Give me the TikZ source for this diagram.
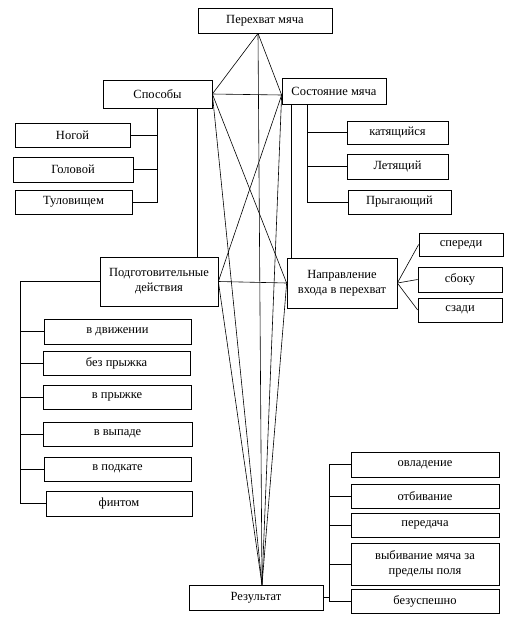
\documentclass[tikz,border=0pt]{standalone}
\usepackage{fontspec}
\setmainfont{Liberation Serif}
\usepackage{tikz}
\usetikzlibrary{positioning}

\tikzset{
  box/.style={draw, line width=0.7pt, align=center, inner sep=1pt, font=\fontsize{12.5}{15}\selectfont},
  link/.style={line width=0.6pt}
}

\begin{document}
\begin{tikzpicture}[x=1pt, y=-1pt]
\useasboundingbox (0,0) rectangle (512,630);
% main nodes
\node[box, minimum width=134, minimum height=25] (top) at (265,20.5) {Перехват мяча};
\node[box, minimum width=109, minimum height=28] (sposob) at (157.5,94) {Способы};
\node[box, minimum width=104, minimum height=26] (sost) at (334,91) {Состояние мяча};
\node[box, minimum width=118, minimum height=49] (podg) at (159,281.5) {Подготовительные\\действия};
\node[box, minimum width=110, minimum height=50] (napr) at (342,283) {Направление\\входа в перехват};
\node[box, minimum width=134, minimum height=25] (rez) at (256,597.5) {Результат};
% sposoby
\node[box, minimum width=115, minimum height=24] (nogoy) at (72.5,135) {Ногой};
\node[box, minimum width=120, minimum height=25] (golov) at (73,169.5) {Головой};
\node[box, minimum width=117, minimum height=24] (tulov) at (73.5,202) {Туловищем};
% sostoyanie
\node[box, minimum width=101, minimum height=23] (katyas) at (397.5,132.5) {катящийся};
\node[box, minimum width=101, minimum height=25] (letyas) at (397.5,166.5) {Летящий};
\node[box, minimum width=103, minimum height=24] (pryg) at (399.5,202) {Прыгающий};
% napravlenie
\node[box, minimum width=84, minimum height=23] (speredi) at (461,244.5) {спереди};
\node[box, minimum width=84, minimum height=25] (sboku) at (460,279.5) {сбоку};
\node[box, minimum width=84, minimum height=24] (szadi) at (460,310) {сзади};
% podgotovitelnye
\node[box, minimum width=147, minimum height=25] (dvizh) at (117.5,331.5) {в движении};
\node[box, minimum width=147, minimum height=24] (bezpr) at (116.5,363) {без прыжка};
\node[box, minimum width=148, minimum height=24] (pryzh) at (117,397) {в прыжке};
\node[box, minimum width=149, minimum height=24] (vypad) at (117.5,434) {в выпаде};
\node[box, minimum width=147, minimum height=24] (podkat) at (117.5,469) {в подкате};
\node[box, minimum width=146, minimum height=25] (fint) at (119,503.5) {финтом};
% rezultat
\node[box, minimum width=148, minimum height=25] (ovlad) at (425,464.5) {овладение};
\node[box, minimum width=148, minimum height=24] (otbiv) at (425,496) {отбивание};
\node[box, minimum width=148, minimum height=24] (pered) at (425,525) {передача};
\node[box, minimum width=148, minimum height=42] (vybiv) at (425,564) {выбивание мяча за\\пределы поля};
\node[box, minimum width=148, minimum height=24] (bezusp) at (425,601) {безуспешно};

% meeting points
\coordinate (t) at ([xshift=-7pt]top.south);
\coordinate (s) at ([yshift=-4pt]sost.west);
\coordinate (r) at ([xshift=6pt]rez.north);

% cross links
\draw[link] (t) -- (sposob.east);
\draw[link] (t) -- (s);
\draw[link] (t) -- (r);
\draw[link] (sposob.east) -- (s);
\draw[link] (sposob.east) -- (napr.west);
\draw[link] (sposob.east) -- (r);
\draw[link] (s) -- (podg.east);
\draw[link] (s) -- (r);
\draw[link] (podg.east) -- (napr.west);
\draw[link] (podg.east) -- (r);
\draw[link] (napr.west) -- (r);
\draw[link] ([xshift=39.5pt]sposob.south) coordinate (a) -- (a |- podg.north);
\draw[link] ([xshift=-43pt]sost.south) coordinate (b) -- (b |- napr.north);

% trees
\foreach \n in {nogoy,golov,tulov}
  \draw[link] (sposob.south) |- (\n.east);
\foreach \n in {katyas,letyas,pryg}
  \draw[link] ([xshift=-27pt]sost.south) |- (\n.west);
\foreach \n in {speredi,sboku,szadi}
  \draw[link] (napr.east) -- (\n.west);
\draw[link] (podg.west) -- ++(-79,0) coordinate (pl) |- (fint.west);
\foreach \n in {dvizh,bezpr,pryzh,vypad,podkat}
  \draw[link] (pl) |- (\n.west);
\draw[link] (rez.east) -- ++(6,0) coordinate (rr) |- (ovlad.west);
\foreach \n in {otbiv,pered,vybiv,bezusp}
  \draw[link] (rr) |- (\n.west);
\end{tikzpicture}
\end{document}
